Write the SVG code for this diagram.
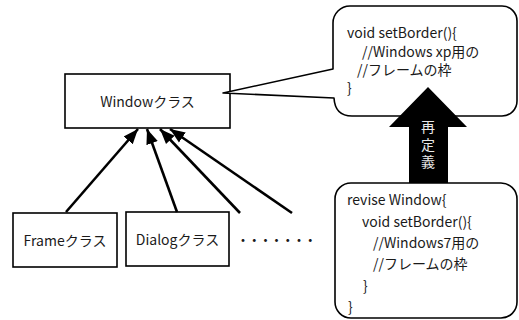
<svg xmlns="http://www.w3.org/2000/svg" width="519" height="320" viewBox="0 0 519 320">
<defs>
<style>
.box{fill:#fff;stroke:#000;stroke-width:1.6}
.t{font-family:"Noto Sans CJK JP","Noto Sans",sans-serif;font-size:14px;fill:#1a1a1a}
.c{text-anchor:middle}
.conn line{stroke:#000;stroke-width:2.6;fill:none}
.w{font-family:"Noto Sans CJK JP",sans-serif;font-size:14px;fill:#e8e8e8}
</style>
<marker id="ah" markerUnits="userSpaceOnUse" markerWidth="16" markerHeight="14" viewBox="0 0 16 14" refX="15" refY="7" orient="auto">
<path d="M0,1 L15,7 L0,13 Z" fill="#000"/>
</marker>
</defs>
<rect width="519" height="320" fill="#fff"/>

<g id="window">
<rect class="box" x="65" y="74" width="165" height="54"/>
<text class="t c" x="147.5" y="107">Windowクラス</text>
</g>

<g id="frame">
<rect class="box" x="13" y="213" width="104" height="54"/>
<text class="t c" x="65" y="246">Frameクラス</text>
</g>

<g id="dialog">
<rect class="box" x="126" y="212" width="103" height="54"/>
<text class="t c" x="177.5" y="245">Dialogクラス</text>
</g>

<g id="dots">
<text class="t" x="236" y="245" letter-spacing="-2.8">・・・・・・・</text>
</g>

<g id="connectors" class="conn">
<line x1="66" y1="212" x2="138" y2="129" marker-end="url(#ah)"/>
<line x1="177" y1="212" x2="147" y2="129" marker-end="url(#ah)"/>
<line x1="240" y1="213" x2="160" y2="129" marker-end="url(#ah)"/>
<line x1="292" y1="213" x2="170" y2="129" marker-end="url(#ah)"/>
</g>

<g id="callout-xp">
<path d="M350,6 H502 A15,15 0 0 1 517,21 V101 A15,15 0 0 1 502,116 H352 Q335,116 334,98 L223,93 L333,69 V23 A17,17 0 0 1 350,6 Z" fill="#fff" stroke="#000" stroke-width="1.6" stroke-linejoin="round"/>
<text class="t" x="347" y="38">void setBorder(){</text>
<text class="t" x="362" y="57">//Windows xp用の</text>
<text class="t" x="357" y="75">//フレームの枠</text>
<text class="t" x="347" y="93">}</text>
</g>

<g id="redefine-arrow">
<path d="M428,87 L467,127 L448,127 L448,183 L409,183 L409,127 L389,127 Z" fill="#000"/>
<text class="w" x="428" y="120" writing-mode="vertical-rl" letter-spacing="3.5">再定義</text>
</g>

<g id="callout-7">
<rect x="335" y="183" width="182" height="135" rx="16" fill="#fff" stroke="#000" stroke-width="1.6"/>
<text class="t" x="347" y="205">revise Window{</text>
<text class="t" x="362" y="227">void setBorder(){</text>
<text class="t" x="373" y="248">//Windows7用の</text>
<text class="t" x="373" y="269">//フレームの枠</text>
<text class="t" x="363" y="291">}</text>
<text class="t" x="348" y="312">}</text>
</g>
</svg>
